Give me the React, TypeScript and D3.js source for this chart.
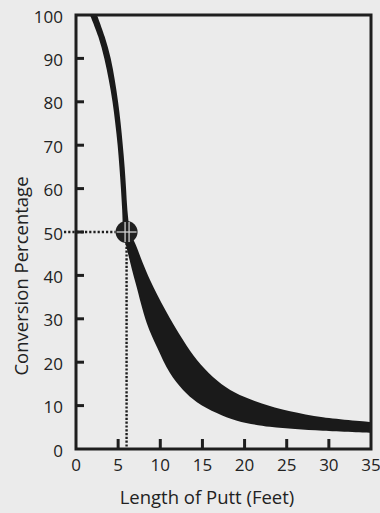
import React from "react";
import * as d3 from "d3";

const xTicks = [0, 5, 10, 15, 20, 25, 30, 35];
const yTicks = [0, 10, 20, 30, 40, 50, 60, 70, 80, 90, 100];

// Upper (right/top) edge of the conversion band: putt length (ft) -> percentage
const upperFt = [2.49, 3.41, 4.12, 4.6, 4.99, 5.3, 5.55, 5.77, 5.94, 6.1, 6.45, 7.1, 7.9, 8.8, 10.6, 12.7, 14.35, 16.25, 18.3, 20.6, 23.0, 25.4, 29.3, 35];
const upperPct = [100, 95, 90, 85, 80, 75, 70, 65, 60, 55, 50, 47, 43, 38.9, 32.0, 25.1, 20.5, 16.6, 13.6, 11.5, 9.9, 8.7, 7.3, 6.2];

// Lower (left/bottom) edge of the band
const lowerFt = [1.66, 2.65, 3.36, 3.89, 4.33, 4.66, 4.94, 5.15, 5.33, 5.48, 5.62, 6.05, 7.1, 8.4, 9.6, 11.15, 12.7, 14.35, 16.7, 19.1, 23.0, 26.0, 29.3, 35];
const lowerPct = [100, 95, 90, 85, 80, 75, 70, 65, 60, 55, 50, 46, 38, 29.0, 23.5, 17.5, 13.6, 10.8, 8.3, 6.5, 5.1, 4.6, 4.2, 3.7];

const markerFt = 6;
const markerPct = 50;

const xTitle = "Length of Putt (Feet)";
const yTitle = "Conversion Percentage";

export default function App() {
  const W = 380;
  const H = 513;
  const left = 76, right = 371, top = 15, bottom = 449;
  const x = d3.scaleLinear().domain([0, 35]).range([left, right]);
  const y = d3.scaleLinear().domain([0, 100]).range([bottom, top]);

  const ink = "#1e1e1e";
  const textCol = "#222";
  const font = "'Open Sans', sans-serif";

  const line = d3
    .line<[number, number]>()
    .x((d) => x(d[0]))
    .y((d) => y(d[1]))
    .curve(d3.curveCatmullRom.alpha(0.5));

  const upperPts: [number, number][] = upperFt.map((f, i) => [f, upperPct[i]]);
  const lowerPts: [number, number][] = lowerFt.map((f, i) => [f, lowerPct[i]]).reverse() as [number, number][];
  const bandPath = (line(upperPts) || "") + (line(lowerPts) || "").replace(/^M/, "L") + "Z";

  const cx = x(markerFt);
  const cy = y(markerPct);
  const r = 11;

  return (
    <svg
      width={W}
      height={H}
      style={{ position: "absolute", left: 0, top: 0, background: "#ebebeb" }}
    >
      <rect x={0} y={0} width={W} height={H} fill="#ebebeb" />
      <defs>
        <clipPath id="plotClip">
          <rect x={left} y={top} width={right - left} height={bottom - top} />
        </clipPath>
      </defs>

      {/* dotted guide lines */}
      <line
        x1={64}
        x2={cx - r}
        y1={cy}
        y2={cy}
        stroke={ink}
        strokeWidth={2.4}
        strokeDasharray="2.2 2"
      />
      <line
        x1={cx}
        x2={cx}
        y1={cy + r}
        y2={bottom}
        stroke={ink}
        strokeWidth={2.4}
        strokeDasharray="2.2 1.6"
      />

      {/* band */}
      <path d={bandPath} fill="#1a1a1a" clipPath="url(#plotClip)" />

      {/* marker */}
      <circle cx={cx} cy={cy} r={r} fill="#202020" />
      <line x1={cx - 1.5} x2={cx - 1.5} y1={cy - r + 1} y2={cy + r - 1} stroke="#cfcfcf" strokeWidth={1.3} />
      <line x1={cx + 2.5} x2={cx + 2.5} y1={cy - r + 1} y2={cy + r - 1} stroke="#cfcfcf" strokeWidth={1.3} />
      <line x1={cx - r + 1} x2={cx + r - 1} y1={cy} y2={cy} stroke="#cfcfcf" strokeWidth={1.3} />

      {/* frame */}
      <rect
        x={left}
        y={top}
        width={right - left}
        height={bottom - top}
        fill="none"
        stroke={ink}
        strokeWidth={3}
      />

      {/* y ticks */}
      {yTicks
        .filter((t) => t > 0 && t < 100)
        .map((t) => (
          <line key={"yt" + t} x1={left} x2={left + 8} y1={y(t)} y2={y(t)} stroke={ink} strokeWidth={3} />
        ))}
      {/* x ticks */}
      {xTicks
        .filter((t) => t > 0 && t < 35)
        .map((t) => (
          <line key={"xt" + t} x1={x(t)} x2={x(t)} y1={bottom} y2={bottom - 10} stroke={ink} strokeWidth={3} />
        ))}

      {/* y labels */}
      {yTicks.map((t) => (
        <text
          key={"yl" + t}
          x={63}
          y={y(t) + 1}
          textAnchor="end"
          dominantBaseline="central"
          fontFamily={font}
          fontSize={17}
          fontWeight={500}
          fill={textCol}
        >
          {t}
        </text>
      ))}
      {/* x labels */}
      {xTicks.map((t) => (
        <text
          key={"xl" + t}
          x={x(t)}
          y={471}
          textAnchor="middle"
          fontFamily={font}
          fontSize={17}
          fontWeight={500}
          fill={textCol}
        >
          {t}
        </text>
      ))}

      <text x={207} y={504} textAnchor="middle" fontFamily={font} fontSize={18.5} fontWeight={500} fill={textCol}>
        {xTitle}
      </text>
      <text
        transform={`translate(20, 276) rotate(-90)`}
        textAnchor="middle"
        dominantBaseline="central"
        fontFamily={font}
        fontSize={18.5}
        fontWeight={500}
        fill={textCol}
      >
        {yTitle}
      </text>
    </svg>
  );
}
